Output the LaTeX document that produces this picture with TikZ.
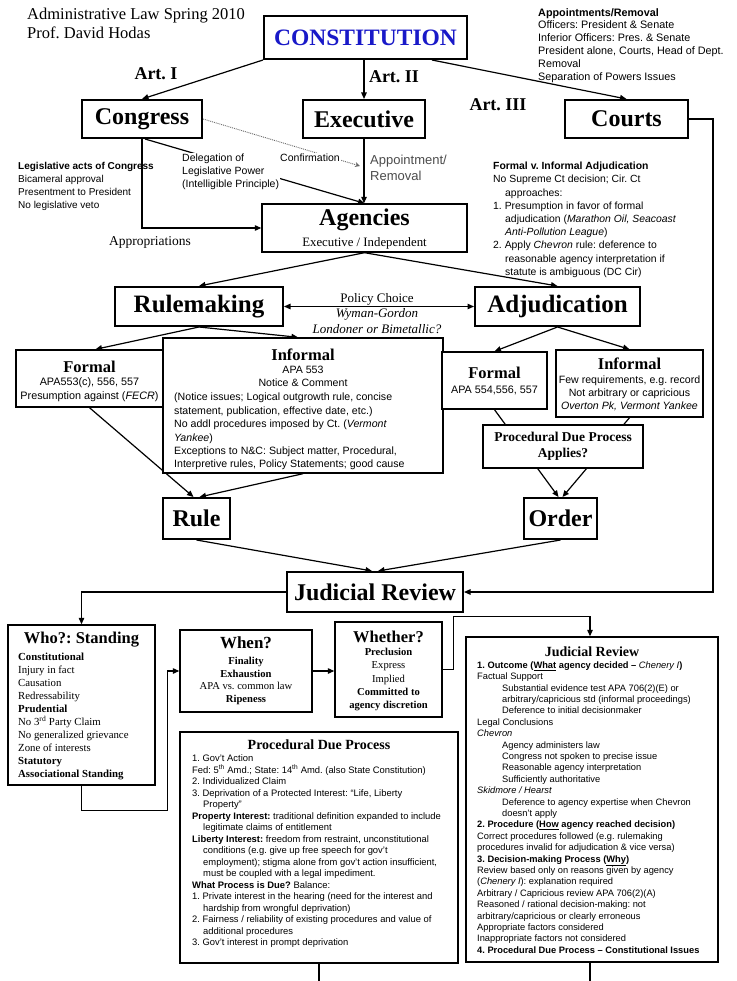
\documentclass[tikz,border=0pt]{standalone}
\usepackage{fontspec}
\setmainfont{Liberation Serif}
\setsansfont{Liberation Sans}
\usetikzlibrary{arrows.meta,calc}
\definecolor{constblue}{RGB}{25,25,200}
\pgfdeclarelayer{bg}
\pgfsetlayers{bg,main}
\newcommand{\fs}[2]{\fontsize{#1}{#2}\selectfont}
\frenchspacing
\begin{document}
\begin{tikzpicture}[x=1pt,y=-1pt,
  box/.style={draw, line width=1.4pt, fill=white, inner sep=0pt, align=center},
  bigbox/.style={box, line width=2pt, font=\bfseries\fs{24}{26}},
  conn/.style={line width=1.2pt, -{Triangle[length=6.5pt,width=5.5pt]}},
  dconn/.style={line width=1.2pt, {Triangle[length=6.5pt,width=5.5pt]}-{Triangle[length=6.5pt,width=5.5pt]}},
  plain/.style={line width=1.2pt},
  txt/.style={inner sep=0pt, align=left, anchor=north west},
  ctr/.style={inner sep=0pt, align=center},
  ttl/.style={ctr, font=\bfseries\fs{16.5}{18}},
  sbody/.style={font=\sffamily\fs{10.8}{13.6}},
]
\useasboundingbox (0,0) rectangle (736,981);

% ---------- header texts
\node[txt, font=\fs{16.5}{19}] (hdr) at (27,8) {Administrative Law Spring 2010\\Prof. David Hodas};
\node[txt, font=\sffamily\fs{10.8}{12.8}] (appt) at (538,8) {\textbf{Appointments/Removal}\\Officers:  President \& Senate\\Inferior Officers:  Pres. \& Senate\\President alone, Courts, Head of Dept.\\Removal\\Separation of Powers Issues};

% ---------- top boxes
\node[bigbox, minimum width=203pt, minimum height=43pt, text=constblue, font=\bfseries\fs{23.5}{26}] (const) at (365.5,37.5) {CONSTITUTION};
\node[bigbox, minimum width=120pt, minimum height=38pt] (congress) at (142,119) {Congress};
\node[bigbox, minimum width=122pt, minimum height=38pt] (exec) at (364,119) {Executive};
\node[bigbox, minimum width=123pt, minimum height=38pt] (courts) at (626.5,119) {Courts};

\node[font=\bfseries\fs{18}{20}] (art1) at (156,74) {Art. I};
\node[font=\bfseries\fs{18}{20}] (art2) at (394,77) {Art. II};
\node[font=\bfseries\fs{18}{20}] (art3) at (498,105) {Art. III};

\node[txt, font=\sffamily\fs{10}{13}] (legis) at (18,162) {\textbf{Legislative acts of Congress}\\Bicameral approval\\Presentment to President\\No legislative veto};
\node[txt, font=\sffamily\fs{10.5}{12.8}, fill=white, inner sep=1pt] (deleg) at (181,153) {Delegation of\\Legislative Power\\(Intelligible Principle)};
\node[font=\sffamily\fs{10.5}{12}, fill=white, inner sep=1pt] (confirm) at (310,158) {Confirmation};
\node[txt, font=\sffamily\fs{13}{16}, text=black!70] (apprm) at (370,154.5) {Appointment/\\Removal};
\node[font=\fs{13.5}{15}] (approp) at (150,242) {Appropriations};

% ---------- agencies
\node[box, minimum width=205pt, minimum height=48pt] (agencies) at (364.5,228) {};
\node[font=\bfseries\fs{24}{26}] (agt) at (364.5,220) {Agencies};
\node[font=\fs{12.8}{15}] (agsub) at (364.5,243) {Executive / Independent};

\node[txt, font=\sffamily\fs{10.4}{13.2}] (fvi) at (493,162) {\textbf{Formal v. Informal Adjudication}\\No Supreme Ct decision; Cir. Ct\\\hspace*{12pt}approaches:\\1. Presumption in favor of formal\\\hspace*{12pt}adjudication (\textit{Marathon Oil,  Seacoast}\\\hspace*{12pt}\textit{Anti-Pollution League})\\2. Apply \textit{Chevron} rule: deference to\\\hspace*{12pt}reasonable agency interpretation if\\\hspace*{12pt}statute is ambiguous (DC Cir)};

% ---------- rulemaking / adjudication
\node[bigbox, minimum width=168pt, minimum height=39pt, font=\bfseries\fs{25}{27}] (rulemaking) at (199,306.5) {Rulemaking};
\node[bigbox, minimum width=165pt, minimum height=39pt, font=\bfseries\fs{25}{27}] (adjudication) at (557.5,306.5) {Adjudication};
\node[font=\fs{13}{15}] (policy) at (377,299) {Policy Choice};
\node[font=\itshape\fs{13}{15}] (wyman) at (377,314) {Wyman-Gordon};
\node[font=\itshape\fs{13}{15}] (londoner) at (377,329) {Londoner or Bimetallic?};

% rulemaking sub-boxes
\node[box, minimum width=147pt, minimum height=57pt] (formalR) at (89.5,378.5) {};
\node[ttl] (formalRt) at (89.5,367) {Formal};
\node[ctr, sbody] (formalRb) at (89.5,390) {APA553(c), 556, 557\\Presumption against (\textit{FECR})};

\node[box, minimum width=280pt, minimum height=135pt] (informalR) at (303,405.5) {};
\node[ttl] (informalRt) at (303,355) {Informal};
\node[ctr, font=\sffamily\fs{10.6}{13}] (informalRs) at (303,376.5) {APA 553\\Notice \& Comment};
\node[txt, font=\sffamily\fs{10.6}{13.4}] (informalRb) at (174,393) {(Notice issues; Logical outgrowth rule, concise\\statement, publication, effective date, etc.)\\No addl procedures imposed by Ct. (\textit{Vermont}\\\textit{Yankee})\\Exceptions to N\&C:  Subject matter, Procedural,\\Interpretive rules, Policy Statements; good cause};

% adjudication sub-boxes
\node[box, minimum width=105pt, minimum height=57pt] (formalA) at (494.5,380.5) {};
\node[ttl] (formalAt) at (494.5,373) {Formal};
\node[ctr, sbody] (formalAb) at (494.5,390) {APA 554,556, 557};

\node[box, minimum width=147pt, minimum height=67pt] (informalA) at (629.5,383.5) {};
\node[ttl] (informalAt) at (629.5,364) {Informal};
\node[ctr, font=\sffamily\fs{10.6}{13}] (informalAb) at (629.5,393) {Few requirements, e.g. record\\Not arbitrary or capricious\\\textit{Overton Pk, Vermont Yankee}};

\node[box, minimum width=160pt, minimum height=43pt, font=\bfseries\fs{13.5}{16}] (pdpq) at (563,446.5) {Procedural Due Process\\Applies?};

% ---------- rule / order / JR
\node[bigbox, minimum width=67pt, minimum height=41pt] (rule) at (196.5,518.5) {Rule};
\node[bigbox, minimum width=73pt, minimum height=41pt] (order) at (560.5,518.5) {Order};
\node[bigbox, minimum width=176pt, minimum height=40pt] (jr) at (375,592) {Judicial Review};

% ---------- who / when / whether
\node[box, minimum width=147pt, minimum height=160pt] (who) at (81.5,705) {};
\node[ctr, font=\bfseries\fs{16.5}{18}] (whot) at (81.5,640) {Who?: Standing};
\node[txt, font=\fs{10.8}{13}] (whob) at (18,652.5) {\textbf{Constitutional}\\Injury in fact\\Causation\\Redressability\\\textbf{Prudential}\\No 3\textsuperscript{rd} Party Claim\\No generalized grievance\\Zone of interests\\\textbf{Statutory}\\\textbf{Associational Standing}};

\node[box, minimum width=132pt, minimum height=82pt] (when) at (246,671) {};
\node[ctr, font=\bfseries\fs{17}{19}] (whent) at (246,643) {When?};
\node[ctr, font=\fs{10.6}{12.7}] (whenb) at (246,681) {\textbf{Finality}\\\textbf{Exhaustion}\\APA vs. common law\\\textbf{Ripeness}};

\node[box, minimum width=107pt, minimum height=95pt] (whether) at (388.5,669.5) {};
\node[ctr, font=\bfseries\fs{16.5}{18}] (whethert) at (388.5,637) {Whether?};
\node[ctr, font=\fs{10.6}{13.2}] (whetherb) at (388.5,679.5) {\textbf{Preclusion}\\Express\\Implied\\\textbf{Committed to}\\\textbf{agency discretion}};

% ---------- procedural due process
\node[box, minimum width=278pt, minimum height=231pt] (pdp) at (319,847.5) {};
\node[ctr, font=\bfseries\fs{14}{16}] (pdpt) at (319,745) {Procedural Due Process};
\node[txt, font=\sffamily\fs{9.4}{11.5}] (pdpb) at (192,754.5) {1. Gov't Action\\Fed:  5\textsuperscript{th} Amd.;  State: 14\textsuperscript{th} Amd. (also State Constitution)\\2. Individualized Claim\\3. Deprivation of a Protected Interest:  “Life, Liberty\\\hspace*{11pt}Property”\\\textbf{Property Interest:}  traditional definition expanded to include\\\hspace*{11pt}legitimate claims of entitlement\\\textbf{Liberty Interest:}  freedom from restraint, unconstitutional\\\hspace*{11pt}conditions (e.g. give up free speech for gov't\\\hspace*{11pt}employment);  stigma alone from gov't action insufficient,\\\hspace*{11pt}must be coupled with a legal impediment.\\\textbf{What Process is Due?}  Balance:\\1.  Private interest in the hearing (need for the interest and\\\hspace*{11pt}hardship from wrongful deprivation)\\2.  Fairness / reliability of existing procedures and value of\\\hspace*{11pt}additional procedures\\3.  Gov't interest in prompt deprivation};

% ---------- judicial review detail
\node[box, minimum width=252pt, minimum height=325pt] (jrd) at (592,799.5) {};
\node[ctr, font=\bfseries\fs{14}{16}] (jrdt) at (592,652) {Judicial Review};
\node[txt, font=\sffamily\fs{9.3}{11.4}] (jrdb) at (477,661.3) {\textbf{1. Outcome (\underline{What} agency decided – }\textit{Chenery I}\textbf{)}\\Factual Support\\\hspace*{25pt}Substantial evidence test APA 706(2)(E) or\\\hspace*{25pt}arbitrary/capricious std (informal proceedings)\\\hspace*{25pt}Deference to initial decisionmaker\\Legal Conclusions\\\textit{Chevron}\\\hspace*{25pt}Agency administers law\\\hspace*{25pt}Congress not spoken to precise issue\\\hspace*{25pt}Reasonable agency interpretation\\\hspace*{25pt}Sufficiently authoritative\\\textit{Skidmore / Hearst}\\\hspace*{25pt}Deference to agency expertise when Chevron\\\hspace*{25pt}doesn't apply\\\textbf{2. Procedure (\underline{How} agency reached decision)}\\Correct procedures followed (e.g. rulemaking\\procedures invalid for adjudication \& vice versa)\\\textbf{3. Decision-making Process (\underline{Why})}\\Review based only on reasons given by agency\\(\textit{Chenery I}):  explanation required\\Arbitrary / Capricious review APA 706(2)(A)\\Reasoned / rational decision-making: not\\arbitrary/capricious or clearly erroneous\\Appropriate factors considered\\Inappropriate factors not considered\\\textbf{4. Procedural Due Process – Constitutional Issues}};

% ---------- free ends
\coordinate (confEnd) at (360,166);
\coordinate (pdpEnd) at (319,981);
\coordinate (jrdEnd) at (590,981);

% ---------- connectors (behind boxes)
\begin{pgfonlayer}{bg}
\fill[white] (0,0) rectangle (736,981);
\draw[conn] (const.south west) -- (congress.north);
\draw[conn] (const.south -| exec.north) -- (exec.north);
\draw[conn] ($(const.south east)+(-36,0)$) -- (courts.north);
\draw[conn] (exec.south) -- (exec.south |- agencies.north);
\draw[line width=0.9pt, densely dotted, black!60, -{Stealth[length=5pt,width=5pt,open]}] (congress.east) -- (confEnd);
\draw[conn] ($(congress.south)+(3,0)$) -- (agencies.north);
\draw[conn] (congress.south) |- (agencies.west);
\draw[conn] (agencies.south) -- (rulemaking.north);
\draw[conn] (agencies.south) -- (adjudication.north);
\draw[dconn] (rulemaking.east) -- (adjudication.west);
\draw[conn] (rulemaking.south) -- ($(formalR.north)+(6,0)$);
\draw[conn] (rulemaking.south) -- ($(informalR.north)+(-5,0)$);
\draw[conn] (adjudication.south) -- (formalA.north);
\draw[conn] (adjudication.south) -- (informalA.north);
\draw[conn] (formalR.south) -- ($(rule.north)+(-3,0)$);
\draw[conn] (informalR.south) -- ($(rule.north)+(3,0)$);
\draw[conn] (formalA.south) -- ($(order.north)+(-2,0)$);
\draw[conn] (informalA.south) -- ($(order.north)+(2,0)$);
\draw[conn] (rule.south) -- ($(jr.north)+(-3,0)$);
\draw[conn] (order.south) -- ($(jr.north)+(3,0)$);
\draw[conn] (courts.east) -- ++(24,0) |- (jr.east);
\draw[conn] (jr.west) -| (who.north);
\draw[conn] (who.south) -- ++(0,25) -| ($(when.west)+(-12,0)$) -- (when.west);
\draw[conn] (when.east) -- (when.east -| whether.west);
\draw[conn] (whether.east) -- ++(11,0) |- ($(jrd.north)+(-2,-20)$) -- ($(jrd.north)+(-2,0)$);
\draw[plain] (pdp.south) -- (pdpEnd);
\draw[plain] (jrdEnd |- jrd.south) -- (jrdEnd);
\end{pgfonlayer}
\end{tikzpicture}
\end{document}
